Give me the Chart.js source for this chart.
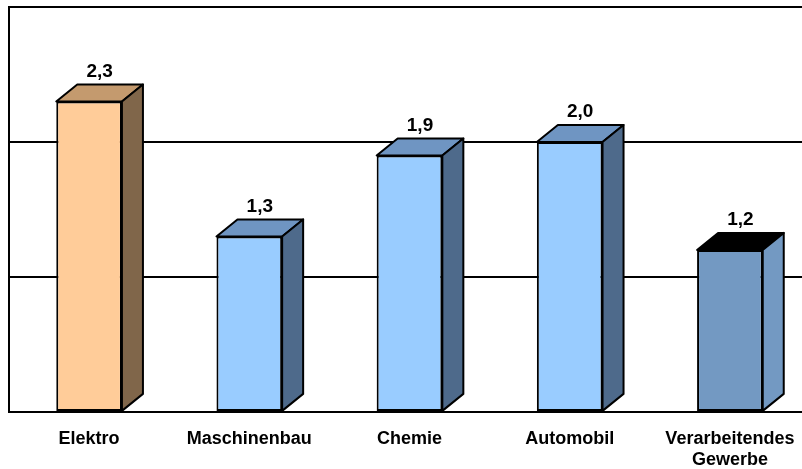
<!DOCTYPE html>
<html>
<head>
<meta charset="utf-8">
<script src="https://cdn.jsdelivr.net/npm/chart.js@4/dist/chart.umd.min.js"></script>
<style>
  html, body { margin: 0; padding: 0; background: #fff; overflow: hidden; }
  #wrap { position: absolute; left: 0; top: 0; width: 830px; height: 488px; }
</style>
</head>
<body>
<div id="wrap"><canvas id="chart"></canvas></div>
<script>
// Data
const categories = ['Elektro', 'Maschinenbau', 'Chemie', 'Automobil', ['Verarbeitendes', 'Gewerbe']];
const values = [2.3, 1.3, 1.9, 2.0, 1.2];
const yTicks = [0, 1, 2, 3];

// Face colours per bar (front, top, side)
const frontColors = ['#FFCC99', '#99CCFF', '#99CCFF', '#99CCFF', '#7399C2'];
const topColors = ['#C49A6E', '#6F95C2', '#6F95C2', '#6F95C2', '#000000'];
const sideColors = ['#80664A', '#4E6A8B', '#4E6A8B', '#4E6A8B', '#7399C2'];

const DX = 21, DY = 17;

// draws top + side faces and value labels
const box3d = {
    id: 'box3d',
    afterDatasetsDraw(chart) {
        const ctx = chart.ctx;
        const meta = chart.getDatasetMeta(0);
        ctx.save();
        ctx.lineWidth = 2;
        ctx.strokeStyle = '#000';
        ctx.lineJoin = 'round';
        meta.data.forEach((bar, i) => {
            const p = bar.getProps(['x', 'y', 'base', 'width'], true);
            const x0 = p.x - p.width / 2, x1 = p.x + p.width / 2;
            const yt = p.y, yb = p.base;
            // top face
            ctx.beginPath();
            ctx.moveTo(x0, yt);
            ctx.lineTo(x1, yt);
            ctx.lineTo(x1 + DX, yt - DY);
            ctx.lineTo(x0 + DX, yt - DY);
            ctx.closePath();
            ctx.fillStyle = topColors[i];
            ctx.fill();
            ctx.stroke();
            // side face
            ctx.beginPath();
            ctx.moveTo(x1, yt);
            ctx.lineTo(x1 + DX, yt - DY);
            ctx.lineTo(x1 + DX, yb - DY);
            ctx.lineTo(x1, yb);
            ctx.closePath();
            ctx.fillStyle = sideColors[i];
            ctx.fill();
            ctx.stroke();
            // value label
            ctx.fillStyle = '#000';
            ctx.font = 'bold 19px "Liberation Sans", Arial, sans-serif';
            ctx.textAlign = 'center';
            ctx.textBaseline = 'middle';
            ctx.fillText(values[i].toFixed(1).replace('.', ','), p.x + DX / 2, yt - DY - 13);
        });
        ctx.restore();
    }
};

new Chart(document.getElementById('chart').getContext('2d'), {
    type: 'bar',
    data: {
        labels: categories,
        datasets: [{
            data: values,
            backgroundColor: frontColors,
            borderColor: '#000',
            borderWidth: 2,
            borderSkipped: false,
            categoryPercentage: 1,
            barPercentage: 0.41
        }]
    },
    options: {
        responsive: true,
        maintainAspectRatio: false,
        animation: false,
        layout: {
            padding: { left: 9, top: 7, right: 20, bottom: 0 }
        },
        plugins: {
            legend: { display: false },
            tooltip: { enabled: false }
        },
        scales: {
            x: {
                grid: { display: false, drawTicks: false },
                border: { display: false },
                ticks: {
                    color: '#000',
                    padding: 17,
                    maxRotation: 0,
                    autoSkip: false,
                    font: { family: '"Liberation Sans", Arial, sans-serif', size: 18, weight: 'bold', lineHeight: 1.17 }
                }
            },
            y: {
                min: 0,
                max: 3,
                afterBuildTicks(scale) {
                    scale.ticks = yTicks.map(v => ({ value: v }));
                },
                ticks: { display: false },
                grid: { color: '#000', lineWidth: 2, drawTicks: false },
                border: { display: true, color: '#000', width: 2 }
            }
        }
    },
    plugins: [box3d]
});
</script>
</body>
</html>
